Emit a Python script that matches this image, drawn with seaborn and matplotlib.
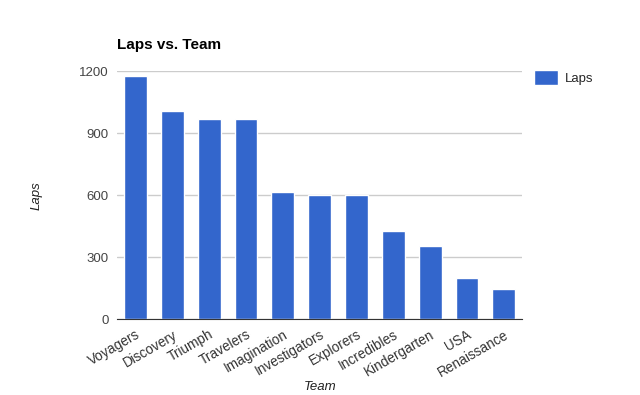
import matplotlib
matplotlib.use("Agg")
import matplotlib.pyplot as plt
import seaborn as sns
import pandas as pd

# datos
teams = ["Voyagers", "Discovery", "Triumph", "Travelers", "Imagination",
         "Investigators", "Explorers", "Incredibles", "Kindergarten", "USA",
         "Renaissance"]
laps = [1175, 1005, 970, 970, 615, 600, 600, 425, 355, 200, 145]
yticks = [0, 300, 600, 900, 1200]

sns.set_style("white")
plt.rcParams['font.family'] = ['Liberation Sans', 'DejaVu Sans']

df = pd.DataFrame({'Team': teams, 'Laps': laps})

fig = plt.figure(figsize=(6.4, 3.95), dpi=100)
ax = fig.add_axes([0.183, 0.192, 0.633, 0.628])

sns.barplot(data=df, x='Team', y='Laps', color='#3366cc', width=0.62,
            saturation=1, ax=ax, label='Laps', zorder=3)

ax.set_ylim(0, 1200)
ax.set_yticks(yticks)
ax.set_yticklabels([str(t) for t in yticks], fontsize=9.5, color='#444444')
ax.set_xlim(-0.5, len(teams) - 0.5)
ax.tick_params(axis='both', length=0, pad=6)
plt.setp(ax.get_xticklabels(), rotation=30, ha='right', rotation_mode='anchor',
         fontsize=9.8, color='#333333')
ax.grid(axis='y', color='#cccccc', linewidth=1, zorder=0)
for s in ['top', 'right', 'left']:
    ax.spines[s].set_visible(False)
ax.spines['bottom'].set_color('#333333')
ax.spines['bottom'].set_zorder(4)

ax.set_xlabel('Team', fontsize=9.5, style='italic', color='#222222')
ax.set_ylabel('Laps', fontsize=9.5, style='italic', color='#222222')
ax.xaxis.set_label_coords(0.5, -0.25)
ax.yaxis.set_label_coords(-0.185, 0.5)

fig.text(0.183, 0.875, 'Laps vs. Team', fontsize=11, fontweight='bold',
         color='#000000')

ax.legend(loc='upper left', bbox_to_anchor=(1.03, 1.005), frameon=False,
          fontsize=9.5, handlelength=1.8, handleheight=1.4, handletextpad=0.5,
          borderpad=0, borderaxespad=0)

plt.savefig('out.png', dpi=100)
